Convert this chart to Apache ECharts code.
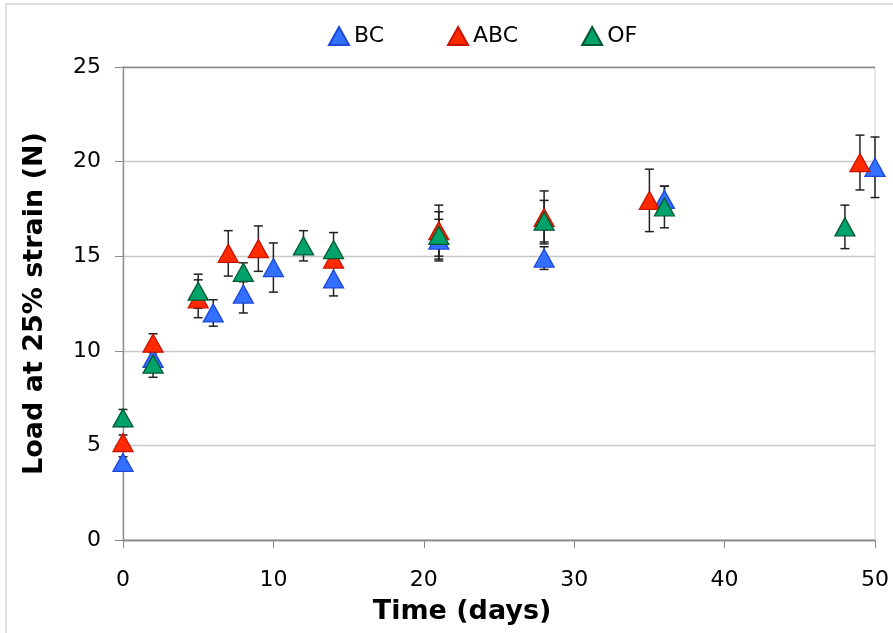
<!DOCTYPE html>
<html>
<head>
<meta charset="utf-8">
<title>Load at 25% strain</title>
<script src="https://cdn.jsdelivr.net/npm/echarts@6/dist/echarts.min.js"></script>
<style>
  html, body { margin: 0; padding: 0; background: #fff; }
  #chart { width: 893px; height: 633px; }
</style>
</head>
<body>
<div id="chart"></div>
<script>
// values (time in days, load in N, error = +/- half bar)
const bcDays = [0, 2, 6, 8, 10, 14, 21, 28, 36, 50]
const bcLoad = [4.1, 9.6, 12.0, 13.0, 14.4, 13.8, 15.85, 14.9, 18.0, 19.7]
const bcErr = [0.3, 0.4, 0.7, 1.0, 1.3, 0.9, 1.1, 0.6, 0.7, 1.6]

const abcDays = [0, 2, 5, 7, 9, 14, 21, 28, 35, 49]
const abcLoad = [5.15, 10.4, 12.75, 15.15, 15.4, 14.85, 16.35, 17.05, 17.95, 19.95]
const abcErr = [0.4, 0.5, 1.0, 1.2, 1.2, 0.3, 1.35, 1.4, 1.65, 1.45]

const ofDays = [0, 2, 5, 8, 12, 14, 21, 28, 36, 48]
const ofLoad = [6.45, 9.3, 13.15, 14.15, 15.55, 15.35, 16.1, 16.85, 17.6, 16.55]
const ofErr = [0.45, 0.7, 0.9, 0.5, 0.8, 0.9, 1.25, 1.1, 1.1, 1.15]

const font = 'DejaVu Sans, Verdana, sans-serif'

const zip = (days, load, err) => days.map((d, i) => [d, load[i], err[i]])

// draws a vertical error bar with caps at both ends
const renderErr = (params, api) => {
  const x = api.value(0)
  const y = api.value(1)
  const e = api.value(2)
  const top = api.coord([x, y + e])
  const bot = api.coord([x, y - e])
  const cap = 4.5
  const style = { stroke: '#222', lineWidth: 1.5 }
  return {
    type: 'group',
    children: [
      { type: 'line', shape: { x1: top[0], y1: top[1], x2: bot[0], y2: bot[1] }, style },
      { type: 'line', shape: { x1: top[0] - cap, y1: top[1], x2: top[0] + cap, y2: top[1] }, style },
      { type: 'line', shape: { x1: bot[0] - cap, y1: bot[1], x2: bot[0] + cap, y2: bot[1] }, style }
    ]
  }
}

const makeSeries = (name, data, fill, border) => [
  {
    name: name + ' err',
    type: 'custom',
    renderItem: renderErr,
    data: data,
    silent: true
  },
  {
    name: name,
    type: 'scatter',
    symbol: 'triangle',
    symbolSize: [20, 18],
    data: data.map(d => [d[0], d[1]]),
    itemStyle: { color: fill, borderColor: border, borderWidth: 1.3, opacity: 1 }
  }
]

const chart = echarts.init(document.getElementById('chart'))
chart.setOption({
  animation: false,
  textStyle: { fontFamily: font },
  graphic: [
    {
      type: 'rect',
      shape: { x: 6, y: 4, width: 950, height: 700 },
      style: { fill: 'none', stroke: '#d8d8d8', lineWidth: 1.5 },
      z: -1
    }
  ],
  legend: {
    data: ['BC', 'ABC', 'OF'],
    left: 323,
    top: 20,
    icon: 'triangle',
    itemWidth: 20,
    itemHeight: 18,
    itemGap: 63,
    textStyle: { fontFamily: font, fontSize: 22, color: '#000' }
  },
  grid: {
    left: 123,
    right: 18,
    top: 67,
    bottom: 93,
    show: true,
    borderColor: '#cfcfcf',
    borderWidth: 1
  },
  xAxis: {
    type: 'value',
    min: 0,
    max: 50,
    interval: 10,
    name: 'Time (days)',
    nameLocation: 'middle',
    nameGap: 58,
    nameTextStyle: { fontFamily: font, fontSize: 27, fontWeight: 'bold', color: '#000', padding: [0, 74, 0, 0] },
    axisLine: { lineStyle: { color: '#888', width: 1.3 } },
    axisTick: { show: true, length: 8, lineStyle: { color: '#888' } },
    axisLabel: { fontFamily: font, fontSize: 22, color: '#000', margin: 29 },
    splitLine: { show: false }
  },
  yAxis: {
    type: 'value',
    min: 0,
    max: 25,
    interval: 5,
    name: 'Load at 25% strain (N)',
    nameLocation: 'middle',
    nameGap: 75,
    nameTextStyle: { fontFamily: font, fontSize: 27, fontWeight: 'bold', color: '#000' },
    axisLine: { show: true, lineStyle: { color: '#888', width: 1.3 } },
    axisTick: { show: true, length: 8, lineStyle: { color: '#888' } },
    axisLabel: { fontFamily: font, fontSize: 22, color: '#000', margin: 22 },
    splitLine: {
      show: true,
      lineStyle: { color: ['#888', '#c8c8c8', '#c8c8c8', '#c8c8c8', '#c8c8c8', '#888'], width: 1.3 }
    }
  },
  series: [
    ...makeSeries('BC', zip(bcDays, bcLoad, bcErr), '#3370ff', '#1c48d8'),
    ...makeSeries('ABC', zip(abcDays, abcLoad, abcErr), '#ff2a00', '#c81400'),
    ...makeSeries('OF', zip(ofDays, ofLoad, ofErr), '#00a26c', '#005a30')
  ]
})
window.onresize = function () {
  chart.resize()
}
</script>
</body>
</html>
